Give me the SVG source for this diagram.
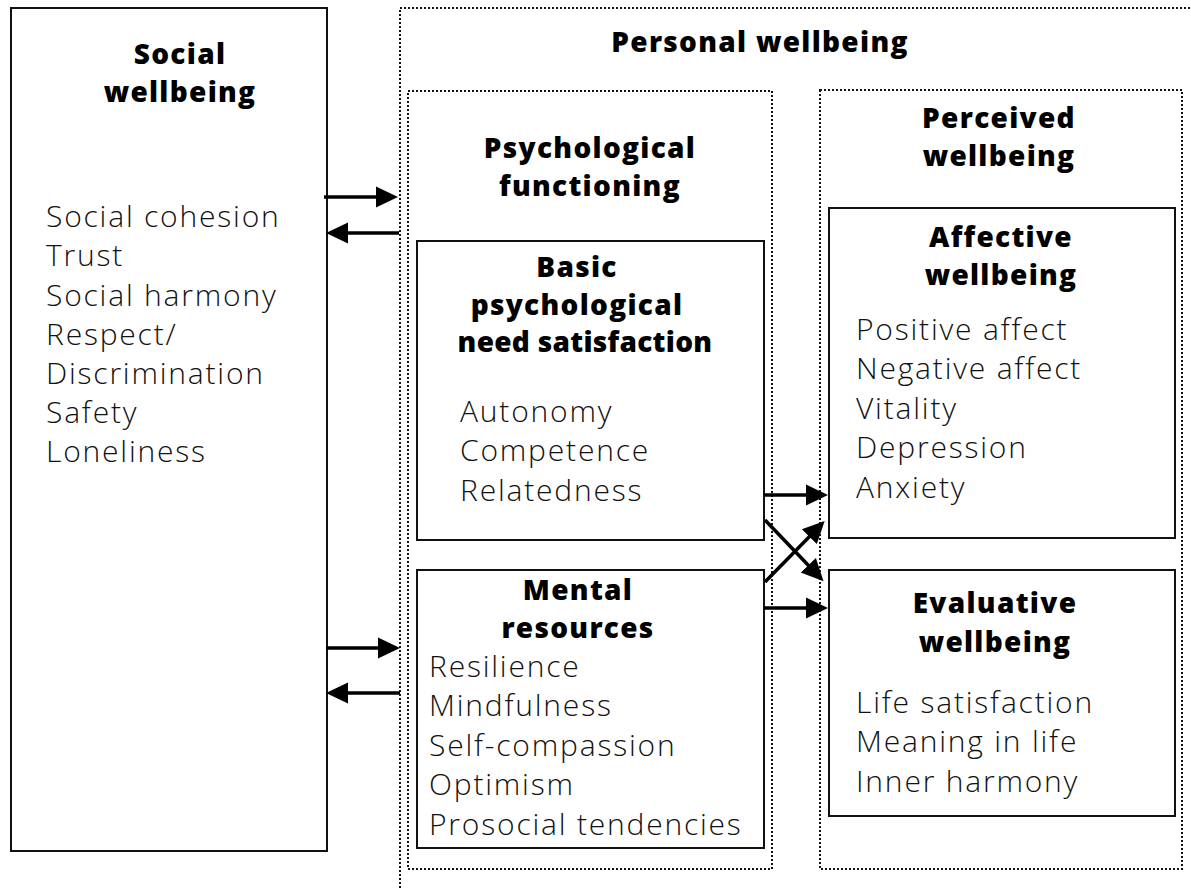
<svg xmlns="http://www.w3.org/2000/svg" width="1191" height="889" viewBox="0 0 1191 889">
<style>
.box{fill:none;stroke:#111;stroke-width:2}
.dot{fill:none;stroke:#111;stroke-width:2;stroke-dasharray:2 2}
.h{font-family:"Open Sans","DejaVu Sans",sans-serif;font-weight:800;font-size:28px;letter-spacing:1.3px;fill:#000;text-anchor:middle}
.t{font-family:"Open Sans","DejaVu Sans",sans-serif;font-weight:300;font-size:30px;letter-spacing:1.8px;fill:#111}
.arr{stroke:#000;stroke-width:3.5;fill:none;marker-end:url(#ah)}
</style>
<defs>
<marker id="ah" markerUnits="userSpaceOnUse" markerWidth="23" markerHeight="23" refX="1" refY="10.5" orient="auto" viewBox="0 0 23 21">
<path d="M0,0 L22,10.5 L0,21 z" fill="#000"/>
</marker>
</defs>
<rect width="1191" height="889" fill="#fff"/>

<g id="social">
<rect class="box" x="11" y="8" width="316" height="843"/>
<text class="h" x="180" y="64">Social</text>
<text class="h" x="180" y="102">wellbeing</text>
<text class="t" x="46" y="227">Social cohesion</text>
<text class="t" x="46" y="266">Trust</text>
<text class="t" x="46" y="306">Social harmony</text>
<text class="t" x="46" y="345">Respect/</text>
<text class="t" x="46" y="384">Discrimination</text>
<text class="t" x="46" y="423">Safety</text>
<text class="t" x="46" y="462">Loneliness</text>
</g>

<g id="personal">
<rect class="dot" x="400" y="8" width="820" height="900"/>
<text class="h" x="760" y="52">Personal wellbeing</text>
</g>

<g id="psychological">
<rect class="dot" x="408" y="91" width="364" height="778"/>
<text class="h" x="590" y="158">Psychological</text>
<text class="h" x="590" y="196">functioning</text>
</g>

<g id="perceived">
<rect class="dot" x="820" y="90" width="362" height="779"/>
<text class="h" x="999" y="128">Perceived</text>
<text class="h" x="999" y="166">wellbeing</text>
</g>

<g id="basic">
<rect class="box" x="417" y="241" width="347" height="299"/>
<text class="h" x="577" y="277">Basic</text>
<text class="h" x="577" y="315">psychological</text>
<text class="h" x="585" y="352" style="letter-spacing:0.3px">need satisfaction</text>
<text class="t" x="460" y="422">Autonomy</text>
<text class="t" x="460" y="461">Competence</text>
<text class="t" x="460" y="501">Relatedness</text>
</g>

<g id="mental">
<rect class="box" x="417" y="570" width="347" height="278"/>
<text class="h" x="578" y="600">Mental</text>
<text class="h" x="578" y="638">resources</text>
<text class="t" x="429" y="677">Resilience</text>
<text class="t" x="429" y="716">Mindfulness</text>
<text class="t" x="429" y="756">Self-compassion</text>
<text class="t" x="429" y="795">Optimism</text>
<text class="t" x="429" y="835">Prosocial tendencies</text>
</g>

<g id="affective">
<rect class="box" x="829" y="208" width="346" height="330"/>
<text class="h" x="1001" y="247">Affective</text>
<text class="h" x="1001" y="285">wellbeing</text>
<text class="t" x="856" y="340">Positive affect</text>
<text class="t" x="856" y="379">Negative affect</text>
<text class="t" x="856" y="419">Vitality</text>
<text class="t" x="856" y="458">Depression</text>
<text class="t" x="856" y="498">Anxiety</text>
</g>

<g id="evaluative">
<rect class="box" x="829" y="570" width="346" height="246"/>
<text class="h" x="995" y="613">Evaluative</text>
<text class="h" x="995" y="652">wellbeing</text>
<text class="t" x="856" y="713">Life satisfaction</text>
<text class="t" x="856" y="752">Meaning in life</text>
<text class="t" x="856" y="792">Inner harmony</text>
</g>

<g id="connectors">
<line class="arr" x1="324" y1="197" x2="377" y2="197"/>
<line class="arr" x1="399" y1="233" x2="347" y2="233"/>
<line class="arr" x1="326" y1="648" x2="379" y2="648"/>
<line class="arr" x1="400" y1="693" x2="347" y2="693"/>
<line class="arr" x1="764" y1="495" x2="807" y2="495"/>
<line class="arr" x1="765" y1="520" x2="809" y2="566"/>
<line class="arr" x1="765" y1="582" x2="810" y2="536"/>
<line class="arr" x1="764" y1="608" x2="807" y2="608"/>
</g>
</svg>
